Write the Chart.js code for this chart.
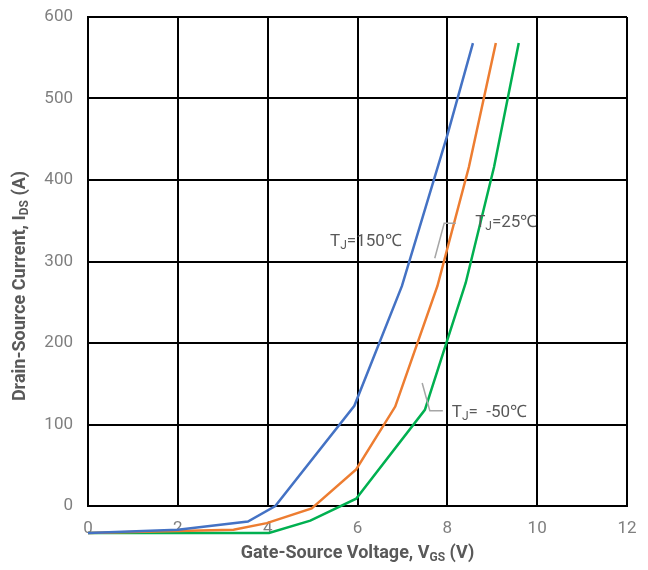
<!DOCTYPE html>
<html>
<head>
<meta charset="utf-8">
<script src="https://cdn.jsdelivr.net/npm/chart.js@4"></script>
<style>
  html, body { margin: 0; padding: 0; background: #fff; }
  #wrap { width: 648px; height: 570px; }
</style>
</head>
<body>
<div id="wrap"><canvas id="transferChart" width="648" height="570"></canvas></div>
<script>
// Gate-source voltage (V) and drain-source current (A)
const vgs150 = [0, 2, 3.56, 4.17, 5.93, 6.99, 8.0, 8.57];
const ids150 = [-33, -29, -19, 0, 123, 270, 455, 568];

const vgs25 = [0, 3.24, 3.98, 4.98, 5.97, 6.84, 7.78, 8.48, 9.08];
const ids25 = [-33, -29, -21, -3, 45, 122, 270, 416, 568];

const vgsM50 = [0, 4.03, 4.95, 5.97, 7.5, 8.41, 9.04, 9.59];
const idsM50 = [-33, -33, -18, 9, 118, 274, 416, 568];

const xTicks = [0, 2, 4, 6, 8, 10, 12];
const yTicks = [0, 100, 200, 300, 400, 500, 600];

const seriesNames = ['TJ=150℃', 'TJ=25℃', 'TJ=-50℃'];
const seriesColors = ['#4472C4', '#ED7D31', '#00B050'];

const FONT = "'Roboto', sans-serif";

function toPoints(xs, ys) {
    return xs.map((x, i) => ({ x: x, y: ys[i] }));
}

// draw a run of text pieces, some as subscripts
function drawRich(ctx, parts, x, y, size, weight, align) {
    const subSize = Math.round(size * 0.68);
    const widths = parts.map(p => {
        ctx.font = `${weight} ${p[1] ? subSize : size}px ${FONT}`;
        return ctx.measureText(p[0]).width;
    });
    const total = widths.reduce((a, b) => a + b, 0);
    let cx = align === 'center' ? x - total / 2 : x;
    ctx.textBaseline = 'middle';
    ctx.textAlign = 'left';
    parts.forEach((p, i) => {
        ctx.font = `${weight} ${p[1] ? subSize : size}px ${FONT}`;
        ctx.fillText(p[0], cx, p[1] ? y + size * 0.25 : y);
        cx += widths[i];
    });
}

const labelsPlugin = {
    id: 'labelsPlugin',
    afterDraw(chart) {
        const ctx = chart.ctx;
        const a = chart.chartArea;
        const xs = chart.scales.x, ys = chart.scales.y;
        ctx.save();
        ctx.fillStyle = '#595959';
        // axis titles
        drawRich(ctx, [['Gate-Source Voltage, V', 0], ['GS', 1], [' (V)', 0]],
            (a.left + a.right) / 2, 553, 18, 'bold', 'center');
        ctx.save();
        ctx.translate(20, 286);
        ctx.rotate(-Math.PI / 2);
        drawRich(ctx, [['Drain-Source Current, I', 0], ['DS', 1], [' (A)', 0]],
            0, 0, 18, 'bold', 'center');
        ctx.restore();

        // leader lines
        ctx.strokeStyle = '#A6A6A6';
        ctx.lineWidth = 1.5;
        const leaders = [
            [[7.72, 304], [7.93, 347], [8.19, 347]],
            [[7.44, 151], [7.61, 117], [7.90, 117]]
        ];
        leaders.forEach(pts => {
            ctx.beginPath();
            pts.forEach((p, i) => {
                const px = xs.getPixelForValue(p[0]), py = ys.getPixelForValue(p[1]);
                if (i === 0) ctx.moveTo(px, py); else ctx.lineTo(px, py);
            });
            ctx.stroke();
        });

        // curve labels
        ctx.fillStyle = '#595959';
        drawRich(ctx, [['T', 0], ['J', 1], ['=150℃', 0]],
            xs.getPixelForValue(5.39), ys.getPixelForValue(324), 17, 'normal', 'left');
        drawRich(ctx, [['T', 0], ['J', 1], ['=25℃', 0]],
            xs.getPixelForValue(8.62), ys.getPixelForValue(347), 17, 'normal', 'left');
        drawRich(ctx, [['T', 0], ['J', 1], ['=  -50℃', 0]],
            xs.getPixelForValue(8.10), ys.getPixelForValue(115), 17, 'normal', 'left');
        ctx.restore();
    }
};

const ctx = document.getElementById('transferChart').getContext('2d');
const chart = new Chart(ctx, {
    type: 'scatter',
    data: {
        datasets: [
            { label: seriesNames[0], data: toPoints(vgs150, ids150) },
            { label: seriesNames[1], data: toPoints(vgs25, ids25) },
            { label: seriesNames[2], data: toPoints(vgsM50, idsM50) }
        ].map((d, i) => Object.assign(d, {
            showLine: true,
            borderColor: seriesColors[i],
            backgroundColor: seriesColors[i],
            borderWidth: 2.5,
            pointRadius: 0,
            tension: 0,
            clip: false
        }))
    },
    options: {
        responsive: false,
        animation: false,
        layout: { padding: { top: 17, right: 21, left: 0, bottom: 0 } },
        plugins: {
            legend: { display: false },
            tooltip: { enabled: false }
        },
        scales: {
            x: {
                type: 'linear',
                min: 0,
                max: 12,
                afterBuildTicks: s => { s.ticks = xTicks.map(v => ({ value: v })); },
                afterFit: s => { s.height = 64; s.paddingLeft = 0; s.paddingRight = 0; },
                grid: { color: '#000', lineWidth: 2, drawTicks: false },
                border: { color: '#000', width: 2 },
                ticks: {
                    padding: 13,
                    color: '#7F7F7F',
                    font: { family: FONT, size: 17 }
                }
            },
            y: {
                type: 'linear',
                min: 0,
                max: 600,
                afterBuildTicks: s => { s.ticks = yTicks.map(v => ({ value: v })); },
                afterFit: s => { s.width = 88; s.paddingTop = 0; s.paddingBottom = 0; },
                grid: { color: '#000', lineWidth: 2, drawTicks: false },
                border: { color: '#000', width: 2 },
                ticks: {
                    padding: 15,
                    color: '#7F7F7F',
                    font: { family: FONT, size: 17 }
                }
            }
        }
    },
    plugins: [labelsPlugin]
});
</script>
</body>
</html>
